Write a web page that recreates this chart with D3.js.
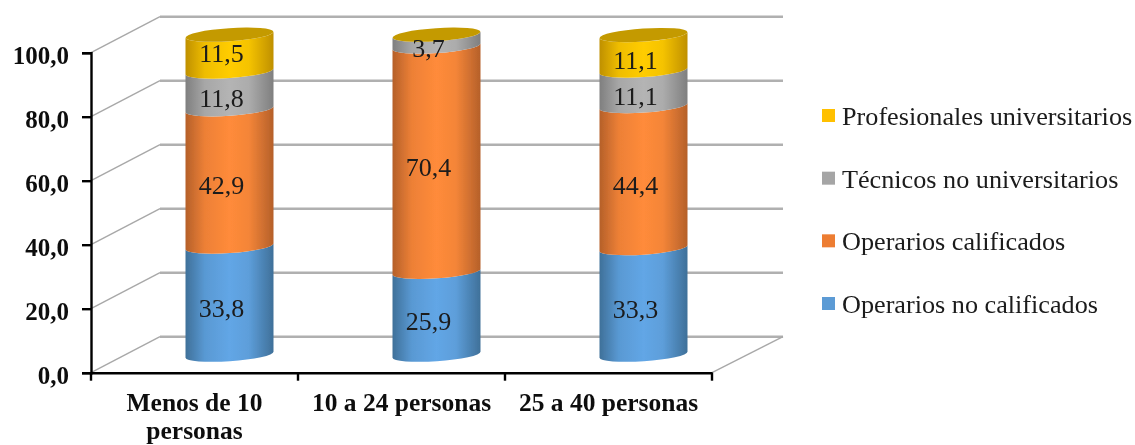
<!DOCTYPE html>
<html><head><meta charset="utf-8">
<script src="https://cdn.jsdelivr.net/npm/d3@7/dist/d3.min.js"></script>
<style>html,body{margin:0;padding:0;background:#fff}svg{display:block}text{font-family:"Liberation Serif",serif}</style>
</head><body><svg id="c" width="1135" height="445"></svg>
<script>
const categories = ["Menos de 10 personas", "10 a 24 personas", "25 a 40 personas"];
const seriesNames = ["Operarios no calificados", "Operarios calificados", "Técnicos no universitarios", "Profesionales universitarios"];
const operariosNoCalificados = [33.8, 25.9, 33.3];
const operariosCalificados = [42.9, 70.4, 44.4];
const tecnicosNoUniversitarios = [11.8, 3.7, 11.1];
const profesionalesUniversitarios = [11.5, 0, 11.1];
const tickValues = [0, 20, 40, 60, 80, 100];
const colors = [
  {edge:"#3f7099", mid:"#62a6e6"},
  {edge:"#b5602a", mid:"#ff8b3a"},
  {edge:"#7f7f7f", mid:"#b4b4b4"},
  {edge:"#bf9000", mid:"#ffcc00"}
];
const capColor = "#c49a00";
const legendColors = ["#5b9bd5","#ed7d31","#a5a5a5","#ffc000"];

const rows = categories.map((c,i)=>({cat:c,
  [seriesNames[0]]:operariosNoCalificados[i],
  [seriesNames[1]]:operariosCalificados[i],
  [seriesNames[2]]:tecnicosNoUniversitarios[i],
  [seriesNames[3]]:profesionalesUniversitarios[i]}));
const stacked = d3.stack().keys(seriesNames)(rows);

const svg = d3.select("#c");
const defs = svg.append("defs");
colors.forEach((c,i)=>{
  const g = defs.append("linearGradient").attr("id","g"+i).attr("x1","0").attr("x2","1").attr("y1","0").attr("y2","0");
  g.append("stop").attr("offset","0").attr("stop-color",c.edge);
  g.append("stop").attr("offset","0.22").attr("stop-color",d3.interpolateRgb(c.edge,c.mid)(0.75));
  g.append("stop").attr("offset","0.5").attr("stop-color",c.mid);
  g.append("stop").attr("offset","0.72").attr("stop-color",d3.interpolateRgb(c.edge,c.mid)(0.85));
  g.append("stop").attr("offset","1").attr("stop-color",c.edge);
});
defs.append("filter").attr("id","soft").attr("x","-2%").attr("y","-2%").attr("width","104%").attr("height","104%")
  .append("feGaussianBlur").attr("stdDeviation",0.5);

const x = d3.scaleBand().domain(categories).range([91,712]);
const y = d3.scaleLinear().domain([0,100]).range([372.7,52.7]);
const depthX = 69, depthY = -36;
const root = svg.append("g").attr("filter","url(#soft)");

// walls
const grid = root.append("g");
grid.selectAll("line.back").data(tickValues).join("line")
  .attr("x1",x.range()[0]+depthX).attr("x2",x.range()[1]+depthX+2)
  .attr("y1",d=>y(d)+depthY).attr("y2",d=>y(d)+depthY)
  .attr("stroke","#b0b0b0").attr("stroke-width",2.4);
grid.selectAll("line.side").data(tickValues).join("line")
  .attr("x1",x.range()[0]).attr("x2",x.range()[0]+depthX)
  .attr("y1",d=>y(d)).attr("y2",d=>y(d)+depthY)
  .attr("stroke","#a8a8a8").attr("stroke-width",1.4);
grid.append("line").attr("x1",x.range()[1]).attr("x2",x.range()[1]+depthX+2)
  .attr("y1",y(0)).attr("y2",y(0)+depthY).attr("stroke","#a8a8a8").attr("stroke-width",1.4);

// cylinders
const rx = 44, ry = 6.5, slant = 3, cylShift = 35;
const cy = v => y(v) + depthY/2;
const cx = c => x(c) + x.bandwidth()/2 + cylShift;
const tilt = -Math.atan2(2*slant, 2*rx)*180/Math.PI;
const seg = (c,a,b)=>{
  const l = cx(c)-rx, r = cx(c)+rx;
  return `M${l},${cy(a)+slant}A${rx},${ry} ${tilt} 0 0 ${r},${cy(a)-slant}`+
         `L${r},${cy(b)-slant}A${rx},${ry} ${tilt} 0 1 ${l},${cy(b)+slant}Z`;
};
const bars = root.append("g");
stacked.forEach((s,i)=>{
  bars.selectAll("path.s"+i).data(s.filter(d=>d[1]-d[0]>0)).join("path")
    .attr("d",d=>seg(d.data.cat,d[0],d[1])).attr("fill",`url(#g${i})`);
});
// top caps
categories.forEach((c,ci)=>{
  const top = stacked[stacked.length-1][ci][1];
  bars.append("ellipse").attr("rx",rx).attr("ry",ry)
    .attr("transform",`translate(${cx(c)},${cy(top)}) rotate(${tilt})`)
    .attr("fill",capColor);
});

// data labels
const fmt = v => d3.format(".1f")(v).replace(".",",");
stacked.forEach((s,i)=>{
  root.append("g").selectAll("text").data(s.filter(d=>d[1]-d[0]>0)).join("text")
    .attr("x",d=>cx(d.data.cat)-8)
    .attr("y",d=>cy((d[0]+d[1])/2)+((i===3&&d.data.cat===categories[0])?9:16.5))
    .attr("text-anchor","middle")
    .attr("font-size",26).attr("fill","#1a1a1a")
    .text(d=>fmt(d[1]-d[0]));
});

// axes
const yAxis = d3.axisLeft(y).tickValues(tickValues).tickSize(9).tickPadding(13).tickFormat(fmt);
const yG = root.append("g").attr("transform",`translate(${x.range()[0]},0)`).call(yAxis);
const xG = root.append("g").attr("transform",`translate(0,${y(0)})`).call(d3.axisBottom(x).tickValues([]).tickSizeOuter(0));
[yG,xG].forEach(g=>{
  g.selectAll("path").attr("stroke","#000").attr("stroke-width",2.4);
  g.selectAll("line").attr("stroke","#000").attr("stroke-width",2.4);
});
yG.selectAll("text").attr("font-size",25).attr("font-weight","bold").attr("fill","#111")
  .attr("font-family","Liberation Serif").attr("dy","0.42em");
// x ticks at band boundaries
xG.selectAll("line.b").data([...categories.map(c=>x(c)),x.range()[1]]).join("line").attr("class","b")
  .attr("x1",d=>d).attr("x2",d=>d).attr("y1",0).attr("y2",8).attr("stroke","#000").attr("stroke-width",2.4);

// category labels
const catG = root.append("g");
categories.forEach((c,i)=>{
  const lines = i===0 ? ["Menos de 10","personas"] : [c];
  lines.forEach((t,j)=>catG.append("text").attr("x",x(c)+x.bandwidth()/2).attr("y",411+j*28.3)
    .attr("text-anchor","middle").attr("font-size",25.5).attr("font-weight","bold").attr("fill","#111").text(t));
});

// legend
const legY = d3.scalePoint().domain(seriesNames).range([304,116]);
const leg = root.append("g").selectAll("g").data(seriesNames).join("g")
  .attr("transform",d=>`translate(822,${legY(d)})`);
leg.append("rect").attr("x",0).attr("y",-7).attr("width",13).attr("height",13)
  .attr("fill",(d,i)=>legendColors[i]);
leg.append("text").attr("x",20).attr("dy","0.34em").attr("font-size",26.2).attr("fill","#1a1a1a").text(d=>d);
</script></body></html>
